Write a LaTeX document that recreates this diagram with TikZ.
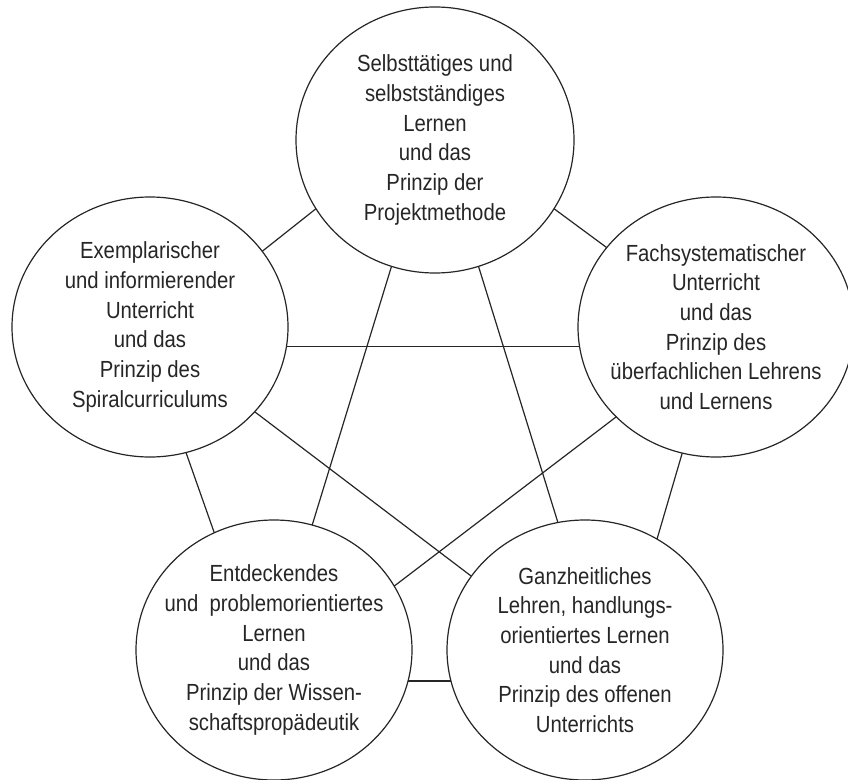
\documentclass[tikz,border=0pt]{standalone}
\usepackage{fontspec}
\newfontfamily\diafont{Liberation Sans}[FakeStretch=0.87]
\usetikzlibrary{shapes.geometric}
\begin{document}
\begin{tikzpicture}[x=0.75pt,y=-0.75pt,
  circ/.style={draw=black!85,line width=0.9pt,ellipse,inner sep=0pt,outer sep=0pt,
    minimum width=207pt,minimum height=195pt},
  topcirc/.style={circ,minimum width=208.5pt,minimum height=199.5pt},
  txt/.style={align=center,inner sep=0pt,text=black!85,
    font=\diafont\fontsize{17.5pt}{22.3pt}\selectfont},
  link/.style={draw=black!85,line width=0.9pt}]
\useasboundingbox (0,0) rectangle (848,780);
\fill[white] (0,0) rectangle (848,780);

\node[topcirc] (T) at (435,140) {};
\node[circ] (L) at (150,327) {};
\node[circ] (R) at (716,327) {};
\node[circ] (BL) at (274,650) {};
\node[circ] (BR) at (585,650) {};

\node[txt] (Tt) at (T.center) {Selbsttätiges und\\selbstständiges\\Lernen\\und das\\Prinzip der\\Projektmethode};
\node[txt] (Lt) at (L.center) {Exemplarischer\\und informierender\\Unterricht\\und das\\Prinzip des\\Spiralcurriculums};
\node[txt] (Rt) at (R.center) {Fachsystematischer\\Unterricht\\und das\\Prinzip des\\überfachlichen Lehrens\\und Lernens};
\node[txt] (BLt) at (BL.center) {Entdeckendes\\und\ \ problemorientiertes\\Lernen\\und das\\Prinzip der Wissen-\\schaftspropädeutik};
\node[txt] (BRt) at (BR.center) {Ganzheitliches\\Lehren, handlungs-\\orientiertes Lernen\\und das\\Prinzip des offenen\\Unterrichts};

\draw[link] (L.34.3) -- (T.210.9);
\draw[link] (T.330) -- (R.144.9);
\draw[link] (L.-8) -- (R.188);
\draw[link] (T.251) -- (BL.73.1);
\draw[link] (T.289.8) -- (BR.102.3);
\draw[link] (L.286.9) -- (BL.117.5);
\draw[link] (L.-39.2) -- (BR.147.9);
\draw[link] (R.222.5) -- (BL.28.6);
\draw[link] (R.255.5) -- (BR.57.3);
\draw[link] (BL.-13.5) -- (BR.193.5);
\end{tikzpicture}
\end{document}
